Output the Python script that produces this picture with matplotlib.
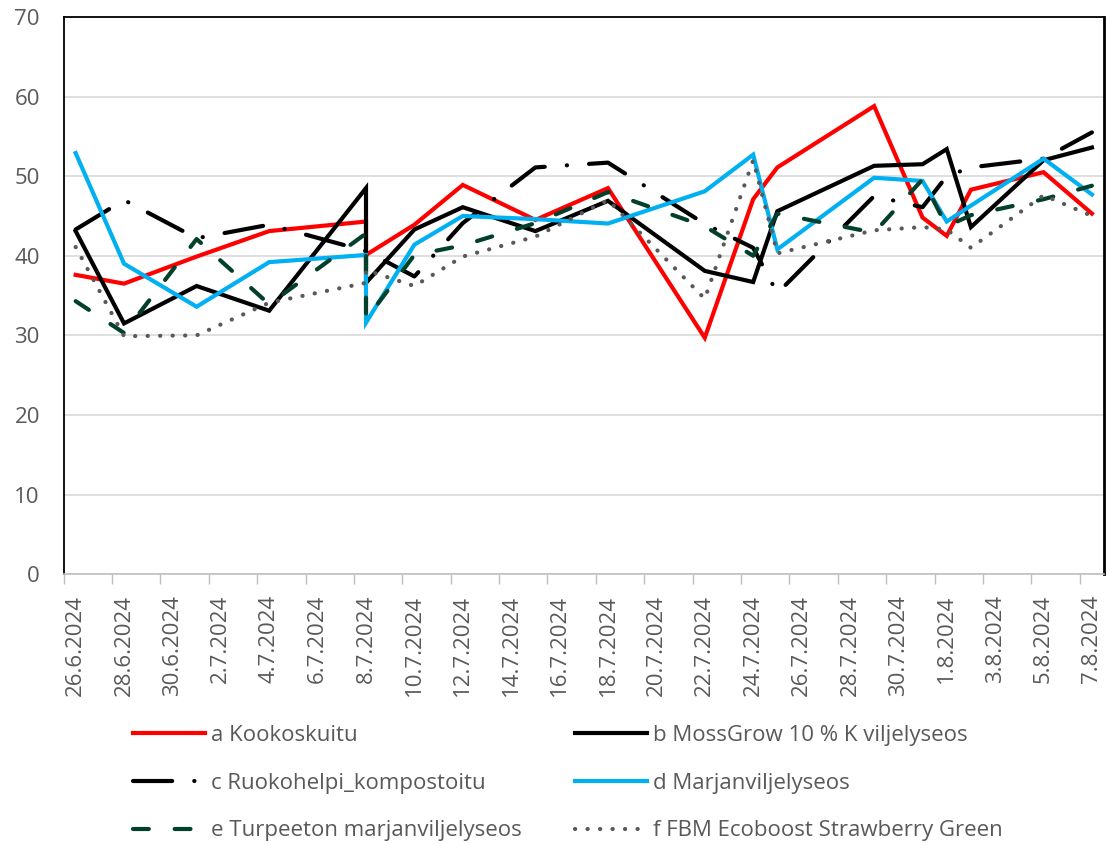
import numpy as np
import pandas as pd
import matplotlib
matplotlib.use("Agg")
import matplotlib.pyplot as plt

# mittauspäivät (8.7. kahdesti)
dates = ["26.6.2024", "28.6.2024", "1.7.2024", "4.7.2024", "8.7.2024", "8.7.2024",
         "10.7.2024", "12.7.2024", "15.7.2024", "18.7.2024", "22.7.2024", "24.7.2024",
         "25.7.2024", "29.7.2024", "31.7.2024", "1.8.2024", "2.8.2024", "5.8.2024",
         "7.8.2024"]

a_kookos = [37.6, 36.5, 39.9, 43.1, 44.3, 40.1, 43.9, 48.9, 44.5, 48.5, 29.7, 47.1,
            51.1, 58.8, 44.8, 42.5, 48.3, 50.5, 45.3]
b_mossgrow = [43.1, 31.5, 36.2, 33.1, 48.5, 36.6, 43.3, 46.1, 43.1, 46.9, 38.1, 36.7,
              45.6, 51.3, 51.5, 53.4, 43.6, 52.0, 53.6]
c_ruoko = [43.3, 47.0, 42.2, 43.9, 40.6, 40.6, 37.4, 44.1, 51.1, 51.7, 44.0, 41.0,
           35.3, 47.5, 46.1, 50.0, 51.1, 52.2, 55.5]
d_marjan = [52.9, 39.0, 33.6, 39.2, 40.1, 31.6, 41.4, 45.0, 44.6, 44.05, 48.1, 52.7,
            40.8, 49.8, 49.4, 44.3, 46.3, 52.2, 47.7]
e_turpeeton = [34.3, 30.3, 42.1, 33.9, 42.8, 32.0, 40.1, 41.3, 44.1, 48.0, 43.7, 40.0,
               45.3, 42.9, 49.6, 43.7, 45.1, 47.1, 48.8]
f_fbm = [41.1, 29.9, 30.0, 34.1, 36.6, 38.2, 36.2, 39.9, 42.4, 47.0, 34.6, 52.0,
         40.3, 43.2, 43.6, 43.3, 41.0, 47.6, 45.0]

labels = ["a Kookoskuitu", "b MossGrow 10 % K viljelyseos", "c Ruokohelpi_kompostoitu",
          "d Marjanviljelyseos", "e Turpeeton marjanviljelyseos",
          "f FBM Ecoboost Strawberry Green"]

plt.rcParams['font.family'] = ['Open Sans', 'DejaVu Sans']
gray_txt = '#595959'
fs = 16

x = pd.to_datetime(dates, format="%d.%m.%Y") + pd.Timedelta(hours=12)

fig = plt.figure(figsize=(11.07, 8.44), dpi=100)
ax = fig.add_axes([0.0574, 0.3197, 0.9399, 0.6602])

lw = 3
series = [
    (a_kookos, dict(color='#FF0000', linestyle='-')),
    (b_mossgrow, dict(color='black', linestyle='-')),
    (c_ruoko, dict(color='black', linestyle=(0, (9.4, 5.3, 0.05, 5.3)))),
    (d_marjan, dict(color='#00B0F0', linestyle='-')),
    (e_turpeeton, dict(color='#03402B', linestyle=(0, (3.8, 6.2)))),
    (f_fbm, dict(color='#595959', linestyle=(0, (0.05, 2.95)))),
]
lines = []
for (vals, st), lab in zip(series, labels):
    ln, = ax.plot(x, vals, lw=lw, label=lab, dash_capstyle='round',
                  solid_joinstyle='miter', **st)
    lines.append(ln)

# akselit
start = pd.Timestamp("2024-06-26")
end = pd.Timestamp("2024-08-08")
ax.set_xlim(start, end)
ax.set_ylim(0, 70)
ax.set_yticks(range(0, 71, 10))

tick_days = pd.date_range("2024-06-26", "2024-08-07", freq="2D")
ax.set_xticks(tick_days + pd.Timedelta(hours=12))
ax.set_xticklabels([f"{t.day}.{t.month}.{t.year}" for t in tick_days], rotation=90)
ax.set_xticks(tick_days, minor=True)
ax.tick_params(axis='x', which='major', length=0, pad=15, labelsize=fs, labelcolor=gray_txt)
ax.tick_params(axis='x', which='minor', length=7, width=1, color='#BFBFBF')
ax.tick_params(axis='y', length=0, pad=17, labelsize=fs, labelcolor=gray_txt)

ax.grid(axis='y', color='#D9D9D9', lw=1.2)
ax.set_axisbelow(True)
for s in ['left', 'top', 'right']:
    ax.spines[s].set_color('black')
    ax.spines[s].set_linewidth(1.3)
ax.spines['right'].set_linewidth(2)
ax.spines['bottom'].set_color('#BFBFBF')
ax.spines['bottom'].set_linewidth(1.2)

order = [0, 2, 4, 1, 3, 5]
leg = fig.legend([lines[i] for i in order], [labels[i] for i in order],
                 loc='upper left', bbox_to_anchor=(133 / 1107, 1 - 725 / 844),
                 ncol=2, frameon=False, fontsize=fs, handlelength=3.25,
                 handletextpad=0.25, columnspacing=2.4, labelspacing=1.2,
                 borderpad=0, borderaxespad=0)
for t in leg.get_texts():
    t.set_color(gray_txt)

fig.savefig("out.png", dpi=100)
